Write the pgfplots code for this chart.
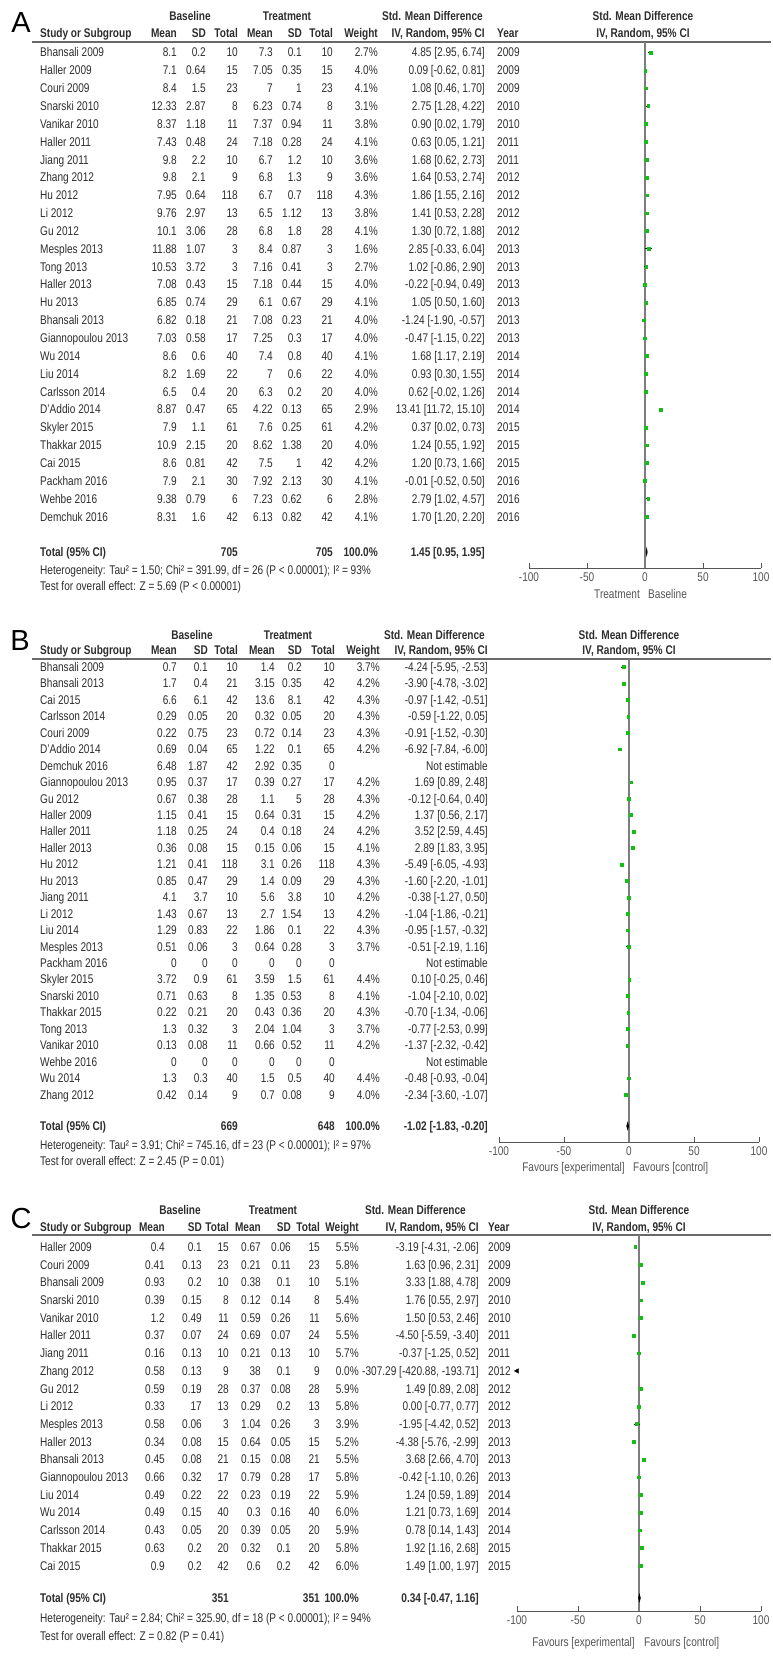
\documentclass[border=0pt]{standalone}
\usepackage{pgfplots}
\pgfplotsset{compat=1.18}
\usepackage{pgfplotstable}
\usepackage{fontspec}
\setmainfont{Liberation Sans}[FakeStretch=0.80]
\newfontfamily\panelfont{Liberation Sans}
\definecolor{txt}{RGB}{45,45,45}
\definecolor{rulec}{RGB}{105,105,105}
\definecolor{zeroc}{RGB}{125,125,125}
\definecolor{axc}{RGB}{85,85,85}
\definecolor{mk}{RGB}{20,190,20}
\newcommand\fs{\fontsize{12.6bp}{14bp}\selectfont}

% forest data: row index, SMD, lower CI, upper CI
\pgfplotstableread{
row smd lo hi
0 4.85 2.95 6.74
1 0.09 -0.62 0.81
2 1.08 0.46 1.70
3 2.75 1.28 4.22
4 0.90 0.02 1.79
5 0.63 0.05 1.21
6 1.68 0.62 2.73
7 1.64 0.53 2.74
8 1.86 1.55 2.16
9 1.41 0.53 2.28
10 1.30 0.72 1.88
11 2.85 -0.33 6.04
12 1.02 -0.86 2.90
13 -0.22 -0.94 0.49
14 1.05 0.50 1.60
15 -1.24 -1.90 -0.57
16 -0.47 -1.15 0.22
17 1.68 1.17 2.19
18 0.93 0.30 1.55
19 0.62 -0.02 1.26
20 13.41 11.72 15.10
21 0.37 0.02 0.73
22 1.24 0.55 1.92
23 1.20 0.73 1.66
24 -0.01 -0.52 0.50
25 2.79 1.02 4.57
26 1.70 1.20 2.20
}\tabA
\pgfplotstableread{
row smd lo hi
0 -4.24 -5.95 -2.53
1 -3.90 -4.78 -3.02
2 -0.97 -1.42 -0.51
3 -0.59 -1.22 0.05
4 -0.91 -1.52 -0.30
5 -6.92 -7.84 -6.00
7 1.69 0.89 2.48
8 -0.12 -0.64 0.40
9 1.37 0.56 2.17
10 3.52 2.59 4.45
11 2.89 1.83 3.95
12 -5.49 -6.05 -4.93
13 -1.60 -2.20 -1.01
14 -0.38 -1.27 0.50
15 -1.04 -1.86 -0.21
16 -0.95 -1.57 -0.32
17 -0.51 -2.19 1.16
19 0.10 -0.25 0.46
20 -1.04 -2.10 0.02
21 -0.70 -1.34 -0.06
22 -0.77 -2.53 0.99
23 -1.37 -2.32 -0.42
25 -0.48 -0.93 -0.04
26 -2.34 -3.60 -1.07
}\tabB
\pgfplotstableread{
row smd lo hi
0 -3.19 -4.31 -2.06
1 1.63 0.96 2.31
2 3.33 1.88 4.78
3 1.76 0.55 2.97
4 1.50 0.53 2.46
5 -4.50 -5.59 -3.40
6 -0.37 -1.25 0.52
7 -307.29 -420.88 -193.71
8 1.49 0.89 2.08
9 0.00 -0.77 0.77
10 -1.95 -4.42 0.52
11 -4.38 -5.76 -2.99
12 3.68 2.66 4.70
13 -0.42 -1.10 0.26
14 1.24 0.59 1.89
15 1.21 0.73 1.69
16 0.78 0.14 1.43
17 1.92 1.16 2.68
18 1.49 1.00 1.97
}\tabC

\pgfplotsset{fp/.style={scale only axis, anchor=south west, xmin=-100, xmax=100,
  axis x line=bottom, axis y line=none, ytick=\empty,
  axis line style={-, draw=axc, line width=0.9bp},
  xtick={-100,-50,0,50,100}, xticklabels={-100,-50,0,50,100},
  xtick align=inside, major tick length=5bp, tick style={draw=axc, line width=0.9bp},
  xticklabel style={font=\fs, text=axc, yshift=-1.5bp}, clip=false},
  pts/.style={only marks, mark=square*, mark size=1.4bp, color=mk,
  mark options={draw=mk, fill=mk},
  error bars/.cd, x dir=both, x explicit, error mark=none,
  error bar style={black, line width=0.7bp}}}

\tikzset{L/.style={anchor=base west, inner sep=0pt, text=txt},
 Rt/.style={anchor=base east, inner sep=0pt, text=txt},
 Cc/.style={anchor=base, inner sep=0pt, text=txt}}

\newcommand\R[9]{\pgfmathsetmacro\yy{\yO+(#1)*\dY+\bs}%
 \node[L] at (\xS,\yy){#2};\node[Rt] at (\xA,\yy){#3};\node[Rt] at (\xB,\yy){#4};%
 \node[Rt] at (\xC,\yy){#5};\node[Rt] at (\xD,\yy){#6};\node[Rt] at (\xE,\yy){#7};%
 \node[Rt] at (\xF,\yy){#8};\node[Rt] at (\xG,\yy){#9};}
\newcommand\CI[2]{\node[Rt] at (\xH,\yy){#1};\node[L] at (\xY,\yy){#2};}
\newcommand\Head[7]{%
 \pgfmathsetmacro\ya{#1+\bs}\pgfmathsetmacro\yb{#2+\bs}%
 \node[Cc,font=\fs\bfseries] at (#3,\ya){Baseline};
 \node[Cc,font=\fs\bfseries] at (#4,\ya){Treatment};
 \node[Rt,font=\fs\bfseries] at (#5,\ya){Std. Mean Difference};
 \node[Cc,font=\fs\bfseries] at (#6,\ya){Std. Mean Difference};
 \node[L,font=\fs\bfseries] at (\xS,\yb){Study or Subgroup};
 \node[Rt,font=\fs\bfseries] at (\xA,\yb){Mean};
 \node[Rt,font=\fs\bfseries] at (\xB,\yb){SD};
 \node[Rt,font=\fs\bfseries] at (\xC,\yb){Total};
 \node[Rt,font=\fs\bfseries] at (\xD,\yb){Mean};
 \node[Rt,font=\fs\bfseries] at (\xE,\yb){SD};
 \node[Rt,font=\fs\bfseries] at (\xF,\yb){Total};
 \node[Rt,font=\fs\bfseries] at (\xG,\yb){Weight};
 \node[Rt,font=\fs\bfseries] at (\xH,\yb){IV, Random, 95\% CI};
 \node[L,font=\fs\bfseries] at (\xY,\yb){#7};
 \node[Cc,font=\fs\bfseries] at (#6,\yb){IV, Random, 95\% CI};}
\newcommand\Tot[4]{%
 \pgfmathsetmacro\yy{#1+\bs}%
 \node[L,font=\fs\bfseries] at (\xS,\yy){Total (95\% CI)};
 \node[Rt,font=\fs\bfseries] at (\xC,\yy){#2};
 \node[Rt,font=\fs\bfseries] at (\xF,\yy){#3};
 \node[Rt,font=\fs\bfseries] at (\xG,\yy){100.0\%};
 \node[Rt,font=\fs\bfseries] at (\xH,\yy){#4};}

\begin{document}
\begin{tikzpicture}[every node/.style={font=\fs}]
\begin{scope}[x=1bp,y=-1bp]
\path[use as bounding box] (0,0) rectangle (771,1658);
\def\bs{4.4}\def\xS{40}
% ================= Panel A =================
\def\yO{52.5}\def\dY{17.85}
\def\xA{177}\def\xB{206}\def\xC{238}\def\xD{273}\def\xE{302}\def\xF{333}\def\xG{378}\def\xH{485}\def\xY{497}
\node[anchor=center, inner sep=0pt, text=black, font=\panelfont\fontsize{29bp}{32bp}\selectfont] at (21,23) {A};
\Head{16}{33}{190}{287}{483}{643}{Year}
\draw[rulec, line width=1.6bp] (32,42) -- (771,42);
\R{0}{Bhansali 2009}{8.1}{0.2}{10}{7.3}{0.1}{10}{2.7\%}\CI{4.85 [2.95, 6.74]}{2009}
\R{1}{Haller 2009}{7.1}{0.64}{15}{7.05}{0.35}{15}{4.0\%}\CI{0.09 [-0.62, 0.81]}{2009}
\R{2}{Couri 2009}{8.4}{1.5}{23}{7}{1}{23}{4.1\%}\CI{1.08 [0.46, 1.70]}{2009}
\R{3}{Snarski 2010}{12.33}{2.87}{8}{6.23}{0.74}{8}{3.1\%}\CI{2.75 [1.28, 4.22]}{2010}
\R{4}{Vanikar 2010}{8.37}{1.18}{11}{7.37}{0.94}{11}{3.8\%}\CI{0.90 [0.02, 1.79]}{2010}
\R{5}{Haller 2011}{7.43}{0.48}{24}{7.18}{0.28}{24}{4.1\%}\CI{0.63 [0.05, 1.21]}{2011}
\R{6}{Jiang 2011}{9.8}{2.2}{10}{6.7}{1.2}{10}{3.6\%}\CI{1.68 [0.62, 2.73]}{2011}
\R{7}{Zhang 2012}{9.8}{2.1}{9}{6.8}{1.3}{9}{3.6\%}\CI{1.64 [0.53, 2.74]}{2012}
\R{8}{Hu 2012}{7.95}{0.64}{118}{6.7}{0.7}{118}{4.3\%}\CI{1.86 [1.55, 2.16]}{2012}
\R{9}{Li 2012}{9.76}{2.97}{13}{6.5}{1.12}{13}{3.8\%}\CI{1.41 [0.53, 2.28]}{2012}
\R{10}{Gu 2012}{10.1}{3.06}{28}{6.8}{1.8}{28}{4.1\%}\CI{1.30 [0.72, 1.88]}{2012}
\R{11}{Mesples 2013}{11.88}{1.07}{3}{8.4}{0.87}{3}{1.6\%}\CI{2.85 [-0.33, 6.04]}{2013}
\R{12}{Tong 2013}{10.53}{3.72}{3}{7.16}{0.41}{3}{2.7\%}\CI{1.02 [-0.86, 2.90]}{2013}
\R{13}{Haller 2013}{7.08}{0.43}{15}{7.18}{0.44}{15}{4.0\%}\CI{-0.22 [-0.94, 0.49]}{2013}
\R{14}{Hu 2013}{6.85}{0.74}{29}{6.1}{0.67}{29}{4.1\%}\CI{1.05 [0.50, 1.60]}{2013}
\R{15}{Bhansali 2013}{6.82}{0.18}{21}{7.08}{0.23}{21}{4.0\%}\CI{-1.24 [-1.90, -0.57]}{2013}
\R{16}{Giannopoulou 2013}{7.03}{0.58}{17}{7.25}{0.3}{17}{4.0\%}\CI{-0.47 [-1.15, 0.22]}{2013}
\R{17}{Wu 2014}{8.6}{0.6}{40}{7.4}{0.8}{40}{4.1\%}\CI{1.68 [1.17, 2.19]}{2014}
\R{18}{Liu 2014}{8.2}{1.69}{22}{7}{0.6}{22}{4.0\%}\CI{0.93 [0.30, 1.55]}{2014}
\R{19}{Carlsson 2014}{6.5}{0.4}{20}{6.3}{0.2}{20}{4.0\%}\CI{0.62 [-0.02, 1.26]}{2014}
\R{20}{D'Addio 2014}{8.87}{0.47}{65}{4.22}{0.13}{65}{2.9\%}\CI{13.41 [11.72, 15.10]}{2014}
\R{21}{Skyler 2015}{7.9}{1.1}{61}{7.6}{0.25}{61}{4.2\%}\CI{0.37 [0.02, 0.73]}{2015}
\R{22}{Thakkar 2015}{10.9}{2.15}{20}{8.62}{1.38}{20}{4.0\%}\CI{1.24 [0.55, 1.92]}{2015}
\R{23}{Cai 2015}{8.6}{0.81}{42}{7.5}{1}{42}{4.2\%}\CI{1.20 [0.73, 1.66]}{2015}
\R{24}{Packham 2016}{7.9}{2.1}{30}{7.92}{2.13}{30}{4.1\%}\CI{-0.01 [-0.52, 0.50]}{2016}
\R{25}{Wehbe 2016}{9.38}{0.79}{6}{7.23}{0.62}{6}{2.8\%}\CI{2.79 [1.02, 4.57]}{2016}
\R{26}{Demchuk 2016}{8.31}{1.6}{42}{6.13}{0.82}{42}{4.1\%}\CI{1.70 [1.20, 2.20]}{2016}
\Tot{552}{705}{705}{1.45 [0.95, 1.95]}
\node[L] at (\xS,574.4) {Heterogeneity: Tau² = 1.50; Chi² = 391.99, df = 26 (P < 0.00001); I² = 93\%};
\node[L] at (\xS,590.4) {Test for overall effect: Z = 5.69 (P < 0.00001)};
\node[anchor=base east, inner sep=0pt, text=axc] at (640,598.5) {Treatment};
\node[anchor=base west, inner sep=0pt, text=axc] at (648,598.5) {Baseline};
% ================= Panel B =================
\def\yO{667}\def\dY{16.45}
\def\xA{177}\def\xB{208}\def\xC{238}\def\xD{275}\def\xE{302}\def\xF{335}\def\xG{380}\def\xH{488}\def\xY{498}
\node[anchor=center, inner sep=0pt, text=black, font=\panelfont\fontsize{29bp}{32bp}\selectfont] at (20,641) {B};
\Head{635}{650}{192}{288}{485}{629}{}
\draw[rulec, line width=1.6bp] (32,659) -- (771,659);
\R{0}{Bhansali 2009}{0.7}{0.1}{10}{1.4}{0.2}{10}{3.7\%}\CI{-4.24 [-5.95, -2.53]}{}
\R{1}{Bhansali 2013}{1.7}{0.4}{21}{3.15}{0.35}{42}{4.2\%}\CI{-3.90 [-4.78, -3.02]}{}
\R{2}{Cai 2015}{6.6}{6.1}{42}{13.6}{8.1}{42}{4.3\%}\CI{-0.97 [-1.42, -0.51]}{}
\R{3}{Carlsson 2014}{0.29}{0.05}{20}{0.32}{0.05}{20}{4.3\%}\CI{-0.59 [-1.22, 0.05]}{}
\R{4}{Couri 2009}{0.22}{0.75}{23}{0.72}{0.14}{23}{4.3\%}\CI{-0.91 [-1.52, -0.30]}{}
\R{5}{D'Addio 2014}{0.69}{0.04}{65}{1.22}{0.1}{65}{4.2\%}\CI{-6.92 [-7.84, -6.00]}{}
\R{6}{Demchuk 2016}{6.48}{1.87}{42}{2.92}{0.35}{0}{}\CI{Not estimable}{}
\R{7}{Giannopoulou 2013}{0.95}{0.37}{17}{0.39}{0.27}{17}{4.2\%}\CI{1.69 [0.89, 2.48]}{}
\R{8}{Gu 2012}{0.67}{0.38}{28}{1.1}{5}{28}{4.3\%}\CI{-0.12 [-0.64, 0.40]}{}
\R{9}{Haller 2009}{1.15}{0.41}{15}{0.64}{0.31}{15}{4.2\%}\CI{1.37 [0.56, 2.17]}{}
\R{10}{Haller 2011}{1.18}{0.25}{24}{0.4}{0.18}{24}{4.2\%}\CI{3.52 [2.59, 4.45]}{}
\R{11}{Haller 2013}{0.36}{0.08}{15}{0.15}{0.06}{15}{4.1\%}\CI{2.89 [1.83, 3.95]}{}
\R{12}{Hu 2012}{1.21}{0.41}{118}{3.1}{0.26}{118}{4.3\%}\CI{-5.49 [-6.05, -4.93]}{}
\R{13}{Hu 2013}{0.85}{0.47}{29}{1.4}{0.09}{29}{4.3\%}\CI{-1.60 [-2.20, -1.01]}{}
\R{14}{Jiang 2011}{4.1}{3.7}{10}{5.6}{3.8}{10}{4.2\%}\CI{-0.38 [-1.27, 0.50]}{}
\R{15}{Li 2012}{1.43}{0.67}{13}{2.7}{1.54}{13}{4.2\%}\CI{-1.04 [-1.86, -0.21]}{}
\R{16}{Liu 2014}{1.29}{0.83}{22}{1.86}{0.1}{22}{4.3\%}\CI{-0.95 [-1.57, -0.32]}{}
\R{17}{Mesples 2013}{0.51}{0.06}{3}{0.64}{0.28}{3}{3.7\%}\CI{-0.51 [-2.19, 1.16]}{}
\R{18}{Packham 2016}{0}{0}{0}{0}{0}{0}{}\CI{Not estimable}{}
\R{19}{Skyler 2015}{3.72}{0.9}{61}{3.59}{1.5}{61}{4.4\%}\CI{0.10 [-0.25, 0.46]}{}
\R{20}{Snarski 2010}{0.71}{0.63}{8}{1.35}{0.53}{8}{4.1\%}\CI{-1.04 [-2.10, 0.02]}{}
\R{21}{Thakkar 2015}{0.22}{0.21}{20}{0.43}{0.36}{20}{4.3\%}\CI{-0.70 [-1.34, -0.06]}{}
\R{22}{Tong 2013}{1.3}{0.32}{3}{2.04}{1.04}{3}{3.7\%}\CI{-0.77 [-2.53, 0.99]}{}
\R{23}{Vanikar 2010}{0.13}{0.08}{11}{0.66}{0.52}{11}{4.2\%}\CI{-1.37 [-2.32, -0.42]}{}
\R{24}{Wehbe 2016}{0}{0}{0}{0}{0}{0}{}\CI{Not estimable}{}
\R{25}{Wu 2014}{1.3}{0.3}{40}{1.5}{0.5}{40}{4.4\%}\CI{-0.48 [-0.93, -0.04]}{}
\R{26}{Zhang 2012}{0.42}{0.14}{9}{0.7}{0.08}{9}{4.0\%}\CI{-2.34 [-3.60, -1.07]}{}
\Tot{1126}{669}{648}{-1.02 [-1.83, -0.20]}
\node[L] at (\xS,1149.4) {Heterogeneity: Tau² = 3.91; Chi² = 745.16, df = 23 (P < 0.00001); I² = 97\%};
\node[L] at (\xS,1165.4) {Test for overall effect: Z = 2.45 (P = 0.01)};
\node[anchor=base east, inner sep=0pt, text=axc] at (625,1171.4) {Favours [experimental]};
\node[anchor=base west, inner sep=0pt, text=axc] at (633,1171.4) {Favours [control]};
% ================= Panel C =================
\def\yO{1247}\def\dY{17.7}
\def\xA{165}\def\xB{202}\def\xC{229}\def\xD{261}\def\xE{291}\def\xF{320}\def\xG{359}\def\xH{479}\def\xY{488}
\node[anchor=center, inner sep=0pt, text=black, font=\panelfont\fontsize{29bp}{32bp}\selectfont] at (21,1219) {C};
\Head{1210}{1227}{180}{273}{466}{639}{Year}
\draw[rulec, line width=1.6bp] (32,1235) -- (771,1235);
\R{0}{Haller 2009}{0.4}{0.1}{15}{0.67}{0.06}{15}{5.5\%}\CI{-3.19 [-4.31, -2.06]}{2009}
\R{1}{Couri 2009}{0.41}{0.13}{23}{0.21}{0.11}{23}{5.8\%}\CI{1.63 [0.96, 2.31]}{2009}
\R{2}{Bhansali 2009}{0.93}{0.2}{10}{0.38}{0.1}{10}{5.1\%}\CI{3.33 [1.88, 4.78]}{2009}
\R{3}{Snarski 2010}{0.39}{0.15}{8}{0.12}{0.14}{8}{5.4\%}\CI{1.76 [0.55, 2.97]}{2010}
\R{4}{Vanikar 2010}{1.2}{0.49}{11}{0.59}{0.26}{11}{5.6\%}\CI{1.50 [0.53, 2.46]}{2010}
\R{5}{Haller 2011}{0.37}{0.07}{24}{0.69}{0.07}{24}{5.5\%}\CI{-4.50 [-5.59, -3.40]}{2011}
\R{6}{Jiang 2011}{0.16}{0.13}{10}{0.21}{0.13}{10}{5.7\%}\CI{-0.37 [-1.25, 0.52]}{2011}
\R{7}{Zhang 2012}{0.58}{0.13}{9}{38}{0.1}{9}{0.0\%}\CI{-307.29 [-420.88, -193.71]}{2012}
\R{8}{Gu 2012}{0.59}{0.19}{28}{0.37}{0.08}{28}{5.9\%}\CI{1.49 [0.89, 2.08]}{2012}
\R{9}{Li 2012}{0.33}{17}{13}{0.29}{0.2}{13}{5.8\%}\CI{0.00 [-0.77, 0.77]}{2012}
\R{10}{Mesples 2013}{0.58}{0.06}{3}{1.04}{0.26}{3}{3.9\%}\CI{-1.95 [-4.42, 0.52]}{2013}
\R{11}{Haller 2013}{0.34}{0.08}{15}{0.64}{0.05}{15}{5.2\%}\CI{-4.38 [-5.76, -2.99]}{2013}
\R{12}{Bhansali 2013}{0.45}{0.08}{21}{0.15}{0.08}{21}{5.5\%}\CI{3.68 [2.66, 4.70]}{2013}
\R{13}{Giannopoulou 2013}{0.66}{0.32}{17}{0.79}{0.28}{17}{5.8\%}\CI{-0.42 [-1.10, 0.26]}{2013}
\R{14}{Liu 2014}{0.49}{0.22}{22}{0.23}{0.19}{22}{5.9\%}\CI{1.24 [0.59, 1.89]}{2014}
\R{15}{Wu 2014}{0.49}{0.15}{40}{0.3}{0.16}{40}{6.0\%}\CI{1.21 [0.73, 1.69]}{2014}
\R{16}{Carlsson 2014}{0.43}{0.05}{20}{0.39}{0.05}{20}{5.9\%}\CI{0.78 [0.14, 1.43]}{2014}
\R{17}{Thakkar 2015}{0.63}{0.2}{20}{0.32}{0.1}{20}{5.8\%}\CI{1.92 [1.16, 2.68]}{2015}
\R{18}{Cai 2015}{0.9}{0.2}{42}{0.6}{0.2}{42}{6.0\%}\CI{1.49 [1.00, 1.97]}{2015}
\Tot{1598}{351}{351}{0.34 [-0.47, 1.16]}
\node[L] at (\xS,1622.4) {Heterogeneity: Tau² = 2.84; Chi² = 325.90, df = 18 (P < 0.00001); I² = 94\%};
\node[L] at (\xS,1640.4) {Test for overall effect: Z = 0.82 (P = 0.41)};
\node[anchor=base east, inner sep=0pt, text=axc] at (635,1646.4) {Favours [experimental]};
\node[anchor=base west, inner sep=0pt, text=axc] at (644,1646.4) {Favours [control]};
\end{scope}

% ---------- forest plot A ----------
\begin{axis}[fp, at={(529bp,-568bp)}, width=232bp, height=526bp, ymin=-28.88, ymax=0.588]
\draw[zeroc, line width=1.2bp] (axis cs:0,0.588) -- (axis cs:0,-28.88);
\addplot[pts] table[x=smd, y expr=-\thisrow{row}, x error plus expr=\thisrow{hi}-\thisrow{smd}, x error minus expr=\thisrow{smd}-\thisrow{lo}]{\tabA};
\addplot[fill=black, draw=black, line width=0.4bp] coordinates {(0.95,-27.98) (1.45,-27.76) (1.95,-27.98) (1.45,-28.2) (0.95,-27.98)};
\end{axis}
% ---------- forest plot B ----------
\begin{axis}[fp, at={(499bp,-1142bp)}, width=260bp, height=483bp, ymin=-28.875, ymax=0.486]
\draw[zeroc, line width=1.2bp] (axis cs:0,0.486) -- (axis cs:0,-28.875);
\addplot[pts] table[x=smd, y expr=-\thisrow{row}, x error plus expr=\thisrow{hi}-\thisrow{smd}, x error minus expr=\thisrow{smd}-\thisrow{lo}]{\tabB};
\addplot[fill=black, draw=black, line width=0.4bp] coordinates {(-1.83,-27.9) (-1.02,-27.66) (-0.20,-27.9) (-1.02,-28.14) (-1.83,-27.9)};
\end{axis}
% ---------- forest plot C ----------
\begin{axis}[fp, at={(517bp,-1611bp)}, width=244bp, height=376bp, ymin=-20.565, ymax=0.678]
\draw[zeroc, line width=1.2bp] (axis cs:0,0.678) -- (axis cs:0,-20.565);
\addplot[restrict x to domain=-100:100, pts] table[x=smd, y expr=-\thisrow{row}, x error plus expr=\thisrow{hi}-\thisrow{smd}, x error minus expr=\thisrow{smd}-\thisrow{lo}]{\tabC};
\addplot[only marks, mark=triangle*, mark size=2.6bp, mark options={rotate=90, fill=black, draw=black}] coordinates {(-100,-7)};
\addplot[fill=black, draw=black, line width=0.4bp] coordinates {(-0.47,-19.83) (0.34,-19.6) (1.16,-19.83) (0.34,-20.06) (-0.47,-19.83)};
\end{axis}
\end{tikzpicture}
\end{document}
